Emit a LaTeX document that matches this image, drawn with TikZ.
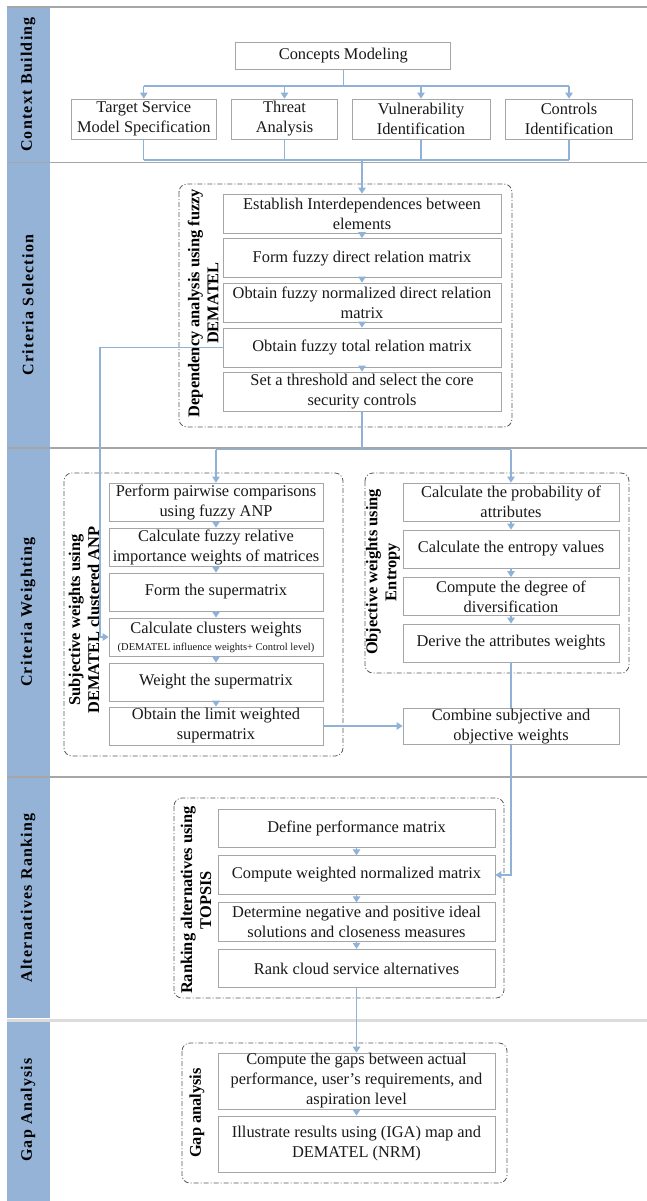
\documentclass[tikz,border=0pt]{standalone}
\usepackage{fontspec}
\setmainfont{Liberation Serif}
\newfontfamily\barfamily[LetterSpace=8]{Liberation Serif}
\usetikzlibrary{arrows.meta}
\definecolor{barblue}{HTML}{95B3D7}
\definecolor{linkblue}{HTML}{8FB2D6}
\definecolor{boxgray}{HTML}{A6A6A6}
\definecolor{dashgray}{HTML}{5A5A5A}
\definecolor{sepgray}{HTML}{A6A6A6}
\definecolor{sepgraylight}{HTML}{DCDCDC}
\newcommand{\mainsz}{\fontsize{16.4}{20}\selectfont}
\newcommand{\smallsz}{\fontsize{10.5}{12}\selectfont}
\begin{document}
\begin{tikzpicture}[x=1pt,y=-1pt,
  stepbox/.style={draw=boxgray, line width=0.8pt, fill=white, inner sep=0pt,
    align=center, font=\mainsz, text=black!90},
  link/.style={draw=linkblue, line width=1.2pt},
  arr/.style={link, -{Triangle[width=7.5pt,length=6pt]}, color=linkblue},
  groupbox/.style={draw=dashgray, line width=0.8pt, rounded corners=8pt,
    dash pattern=on 5pt off 2pt on 1pt off 2pt},
  grouplabel/.style={rotate=90, font=\bfseries\fontsize{16.4}{19}\selectfont,
    align=center, inner sep=0pt},
  barlabel/.style={rotate=90, font=\barfamily\bfseries\fontsize{16}{19}\selectfont, inner sep=0pt},
  sep/.style={draw=sepgray, line width=1.5pt}]
\useasboundingbox (0,0) rectangle (647,1201);
\fill[white] (0,0) rectangle (647,1201);

% phase bar on the left
\fill[barblue] (7,7) rectangle (50,1201);
\fill[white] (7,1018) rectangle (50,1022);

% phase separators
\draw[sep] (7,7) -- (647,7);
\draw[sep] (7,162.5) -- (647,162.5);
\draw[sep] (7,448) -- (647,448);
\draw[sep] (7,777) -- (647,777);
\draw[draw=sepgraylight, line width=3pt] (7,1020) -- (647,1020);

% phase names
\node[barlabel] (p1) at (28,84.5) {Context Building};
\node[barlabel] (p2) at (28,305) {Criteria Selection};
\node[barlabel] (p3) at (28,612) {Criteria Weighting};
\node[barlabel] (p4) at (28,898) {Alternatives Ranking};
\node[barlabel] (p5) at (28,1110) {Gap Analysis};

% group frames
\draw[groupbox] (179,184) rectangle (512,427);
\draw[groupbox] (64,473) rectangle (343,756);
\draw[groupbox] (365,473) rectangle (629,673);
\draw[groupbox] (174,798) rectangle (504,998);
\draw[groupbox] (182,1043) rectangle (507,1183);

\node[grouplabel] (l1) at (203,303) {Dependency analysis using fuzzy\\DEMATEL};
\node[grouplabel] (l2) at (84,620) {Subjective weights using\\DEMATEL clustered ANP};
\node[grouplabel] (l3) at (383,572) {Objective weights using\\Entropy};
\node[grouplabel] (l4) at (196,900) {Ranking alternatives using\\TOPSIS};
\node[grouplabel] (l5) at (197,1113) {Gap analysis};

% context building
\node[stepbox, minimum width=215pt, minimum height=27pt] (cm) at (343.3,56) {Concepts Modeling};
\node[stepbox, minimum width=145.6pt, minimum height=40pt] (tsm) at (143.8,119) {Target Service\\Model Specification};
\node[stepbox, minimum width=106pt, minimum height=40pt] (ta) at (284.5,119) {Threat\\Analysis};
\node[stepbox, minimum width=138pt, minimum height=40pt] (vi) at (421,119) {Vulnerability\\Identification};
\node[stepbox, minimum width=127pt, minimum height=40pt] (ci) at (569,119) {Controls\\Identification};

% criteria selection
\node[stepbox, minimum width=278pt, minimum height=39pt] (d1) at (362,213.5) {Establish Interdependences between\\elements};
\node[stepbox, minimum width=278pt, minimum height=39pt] (d2) at (362,258) {Form fuzzy direct relation matrix};
\node[stepbox, minimum width=278pt, minimum height=39pt] (d3) at (362,302.5) {Obtain fuzzy normalized direct relation\\matrix};
\node[stepbox, minimum width=278pt, minimum height=39pt] (d4) at (362,347.5) {Obtain fuzzy total relation matrix};
\node[stepbox, minimum width=278pt, minimum height=39pt] (d5) at (362,391.5) {Set a threshold and select the core\\security controls};

% criteria weighting, subjective side
\node[stepbox, minimum width=214pt, minimum height=38pt] (s1) at (216,502) {Perform pairwise comparisons\\using fuzzy ANP};
\node[stepbox, minimum width=214pt, minimum height=38pt] (s2) at (216,547) {Calculate fuzzy relative\\importance weights of matrices};
\node[stepbox, minimum width=214pt, minimum height=38pt] (s3) at (216,592) {Form the supermatrix};
\node[stepbox, minimum width=214pt, minimum height=38pt] (s4) at (216,637) {Calculate clusters weights\\[-3pt]{\smallsz (DEMATEL influence weights+ Control level)}};
\node[stepbox, minimum width=214pt, minimum height=38pt] (s5) at (216,682) {Weight the supermatrix};
\node[stepbox, minimum width=214pt, minimum height=38pt] (s6) at (216,726) {Obtain the limit weighted\\supermatrix};

% criteria weighting, objective side
\node[stepbox, minimum width=216pt, minimum height=38pt] (r1) at (511,502) {Calculate the probability of\\attributes};
\node[stepbox, minimum width=216pt, minimum height=38pt] (r2) at (511,549) {Calculate the entropy values};
\node[stepbox, minimum width=216pt, minimum height=38pt] (r3) at (511,596.5) {Compute the degree of\\diversification};
\node[stepbox, minimum width=216pt, minimum height=38pt] (r4) at (511,643) {Derive the attributes weights};
\node[stepbox, minimum width=216pt, minimum height=36pt] (cw) at (511,726.5) {Combine subjective and\\objective weights};

% alternatives ranking
\node[stepbox, minimum width=277pt, minimum height=38.5pt] (t1) at (356.5,828.5) {Define performance matrix};
\node[stepbox, minimum width=277pt, minimum height=38.5pt] (t2) at (356.5,875) {Compute weighted normalized matrix};
\node[stepbox, minimum width=277pt, minimum height=38.5pt] (t3) at (356.5,922) {Determine negative and positive ideal\\solutions and closeness measures};
\node[stepbox, minimum width=277pt, minimum height=38.5pt] (t4) at (356.5,968.5) {Rank cloud service alternatives};

% gap analysis
\node[stepbox, minimum width=277pt, minimum height=56pt] (g1) at (356.5,1081) {Compute the gaps between actual\\performance, user’s requirements, and\\aspiration level};
\node[stepbox, minimum width=277pt, minimum height=56pt] (g2) at (356.5,1144) {Illustrate results using (IGA) map and\\DEMATEL (NRM)};

% connectors: context building
\coordinate (cmfork) at (343.3,86);
\draw[link] (cm.south) -- (cmfork);
\draw[link] (tsm.north |- cmfork) -- (ci.north |- cmfork);
\foreach \n in {tsm,ta,vi,ci} \draw[arr] (\n.north |- cmfork) -- (\n.north);
\coordinate (ctxjoin) at (362,160);
\foreach \n in {tsm,ta,vi,ci} \draw[link] (\n.south) -- (\n.south |- ctxjoin);
\draw[link] (tsm.south |- ctxjoin) -- (ci.south |- ctxjoin);
\draw[arr] (ctxjoin) -- (d1.north);

% connectors: criteria selection
\draw[arr] (d1.south) -- (d2.north);
\draw[arr] (d2.south) -- (d3.north);
\draw[arr] (d3.south) -- (d4.north);
\draw[arr] (d4.south) -- (d5.north);
\coordinate (selfork) at (362,449.5);
\draw[link] (d5.south) -- (selfork);
\draw[link] (s1.north |- selfork) -- (r1.north |- selfork);
\draw[arr] (s1.north |- selfork) -- (s1.north);
\draw[arr] (r1.north |- selfork) -- (r1.north);
\coordinate (side) at (100,347.5);
\draw[arr] (d4.west) -- (side) |- (s4.west);

% connectors: criteria weighting
\draw[arr] (s1.south) -- (s2.north);
\draw[arr] (s2.south) -- (s3.north);
\draw[arr] (s3.south) -- (s4.north);
\draw[arr] (s4.south) -- (s5.north);
\draw[arr] (s5.south) -- (s6.north);
\draw[arr] (r1.south) -- (r2.north);
\draw[arr] (r2.south) -- (r3.north);
\draw[arr] (r3.south) -- (r4.north);
\draw[link] (r4.south) -- (cw.north);
\draw[arr] (s6.east) -- (s6.east -| cw.west);
\draw[arr] (cw.south) |- (t2.east);

% connectors: ranking and gap analysis
\draw[arr] (t1.south) -- (t2.north);
\draw[arr] (t2.south) -- (t3.north);
\draw[arr] (t3.south) -- (t4.north);
\draw[arr] (t4.south) -- (g1.north);
\draw[arr] (g1.south) -- (g2.north);
\end{tikzpicture}
\end{document}
